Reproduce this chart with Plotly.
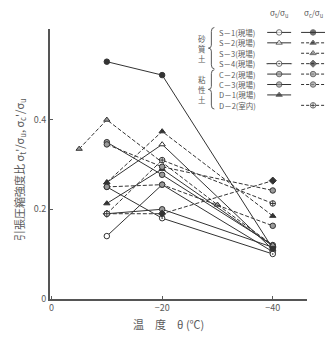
import plotly.graph_objects as go

# ---- data -------------------------------------------------------------
# temperature θ (℃) at which the specimens were tested
temp_std = [-10, -20, -40]
temp_S3 = [-5, -10, -30, -40]

# tensile strength ratio σt/σu
st_S1 = [0.14, 0.255, 0.105]
st_S2 = [0.26, 0.345, 0.11]
st_S4 = [0.25, 0.18, 0.10]
st_C2 = [0.19, 0.20, 0.115]
st_C3 = [0.35, 0.277, 0.12]
st_D1 = [0.213, 0.29, 0.118]

# compressive strength ratio σc/σu
sc_S1 = [0.53, 0.50, 0.112]
sc_S2 = [0.26, 0.374, 0.185]
sc_S3 = [0.335, 0.40, 0.21, 0.12]
sc_S4 = [0.19, 0.19, 0.264]
sc_C2 = [0.345, 0.295, 0.242]
sc_C3 = [0.25, 0.255, 0.163]
sc_D2 = [0.19, 0.31, 0.213]

soil_labels = ["S－1(現場)", "S－2(現場)", "S－3(現場)", "S－4(現場)",
               "C－2(現場)", "C－3(現場)", "D－1(現場)", "D－2(室内)"]
x_ticks = [0, -20, -40]
x_ticktext = ["0", "−20", "−40"]
y_ticks = [0, 0.2, 0.4]
y_ticktext = ["0", "0.2", "0.4"]

INK = "#333333"
TXT = "#5a5a5a"
HALF = "#9a9a9a"
FONT = "Noto Sans CJK JP"
MSIZE = 5.5

# marker styles: (symbol, fill colour)
OPEN_C = ("circle", "white")
OPEN_CD = ("circle-dot", "white")
OPEN_T = ("triangle-up", "white")
FILL_C = ("circle", INK)
FILL_T = ("triangle-up", INK)
HALF_T = ("triangle-up", HALF)
FILL_D = ("diamond", INK)
HALF_C = ("circle", HALF)
CROSS_C = ("circle-cross", "white")

# (row in key, column, temps, values, marker, dash)
series = [
    (0, 0, temp_std, st_S1, OPEN_C, "solid"),
    (1, 0, temp_std, st_S2, OPEN_T, "solid"),
    (3, 0, temp_std, st_S4, OPEN_CD, "solid"),
    (4, 0, temp_std, st_C2, HALF_C, "solid"),
    (5, 0, temp_std, st_C3, HALF_C, "solid"),
    (6, 0, temp_std, st_D1, FILL_T, "solid"),
    (0, 1, temp_std, sc_S1, FILL_C, "solid"),
    (1, 1, temp_std, sc_S2, FILL_T, "dash"),
    (2, 1, temp_S3, sc_S3, HALF_T, "dash"),
    (3, 1, temp_std, sc_S4, FILL_D, "dash"),
    (4, 1, temp_std, sc_C2, HALF_C, "dash"),
    (5, 1, temp_std, sc_C3, HALF_C, "dash"),
    (7, 1, temp_std, sc_D2, CROSS_C, "dash"),
]

W, H = 329, 344
fig = go.Figure()

for row, col, tx, vals, (sym, fill), dash in series:
    fig.add_trace(go.Scatter(
        x=tx, y=vals, mode="lines+markers",
        line=dict(color=INK, width=1, dash="4px,2px" if dash == "dash" else "solid"),
        marker=dict(symbol=sym, size=MSIZE, color=fill, line=dict(color=INK, width=1)),
        xaxis="x", yaxis="y", showlegend=False, hoverinfo="skip",
    ))

# ---- key (drawn on a pixel-space helper axis) --------------------------
row_y0, row_dy = 33, 10.6
col_x = [279, 313]
half_len = 12
for row, col, tx, vals, (sym, fill), dash in series:
    yy = row_y0 + row * row_dy
    cx = col_x[col]
    fig.add_trace(go.Scatter(
        x=[cx - half_len, cx, cx + half_len], y=[yy, yy, yy],
        mode="lines+markers",
        line=dict(color=INK, width=1, dash="3px,2px" if dash == "dash" else "solid"),
        marker=dict(symbol=sym, size=[0, MSIZE, 0], color=fill,
                    line=dict(color=INK, width=1)),
        xaxis="x2", yaxis="y2", showlegend=False, hoverinfo="skip",
    ))

annotations = []
for i, lab in enumerate(soil_labels):
    annotations.append(dict(
        x=217, y=row_y0 + i * row_dy, xref="x2", yref="y2", text=lab,
        showarrow=False, xanchor="left", yanchor="middle",
        font=dict(size=7.5, color=TXT, family=FONT)))
annotations += [
    dict(x=col_x[0], y=14, xref="x2", yref="y2",
         text="σ<sub>t</sub>/σ<sub>u</sub>", showarrow=False,
         font=dict(size=8, color=TXT, family=FONT)),
    dict(x=col_x[1], y=14, xref="x2", yref="y2",
         text="σ<sub>c</sub>/σ<sub>u</sub>", showarrow=False,
         font=dict(size=8, color=TXT, family=FONT)),
    dict(x=202, y=49, xref="x2", yref="y2", text="砂<br>質<br>土",
         showarrow=False, font=dict(size=7.5, color=TXT, family=FONT)),
    dict(x=202, y=91, xref="x2", yref="y2", text="粘<br>性<br>土",
         showarrow=False, font=dict(size=7.5, color=TXT, family=FONT)),
    # axis titles
    dict(x=168, y=330, xref="x2", yref="y2", text="温　度　θ (℃)",
         showarrow=False, font=dict(size=11, color=TXT, family=FONT)),
    dict(x=18, y=172, xref="x2", yref="y2", textangle=-90,
         text="引張圧縮強度比 σ<sub>t</sub>'/σ<sub>u</sub>, σ<sub>c</sub>'/σ<sub>u</sub>",
         showarrow=False, font=dict(size=11, color=TXT, family=FONT)),
]


def brace(y0, y1, x=211):
    ym = (y0 + y1) / 2
    return (f"M {x+3},{y0} Q {x},{y0} {x},{y0+4} L {x},{ym-3} "
            f"Q {x},{ym} {x-3},{ym} Q {x},{ym} {x},{ym+3} "
            f"L {x},{y1-4} Q {x},{y1} {x+3},{y1}")


shapes = [
    dict(type="path", path=brace(28, 70), xref="x2", yref="y2",
         line=dict(color=TXT, width=1)),
    dict(type="path", path=brace(71, 111), xref="x2", yref="y2",
         line=dict(color=TXT, width=1)),
]

fig.update_layout(
    width=W, height=H,
    margin=dict(l=0, r=0, t=0, b=0),
    paper_bgcolor="white", plot_bgcolor="rgba(0,0,0,0)",
    font=dict(family=FONT, color=TXT),
    xaxis=dict(
        domain=[49 / W, 307 / W], range=[0.3, -46.2],
        tickvals=x_ticks, ticktext=x_ticktext, ticks="inside", ticklen=3,
        tickcolor=TXT, tickfont=dict(size=9, color=TXT),
        showline=True, linecolor="#555", linewidth=1.5,
        showgrid=False, zeroline=False, anchor="y",
    ),
    yaxis=dict(
        domain=[(H - 304) / H, (H - 30) / H], range=[0, 0.602],
        tickvals=y_ticks, ticktext=y_ticktext, ticks="inside", ticklen=3,
        tickcolor=TXT, tickfont=dict(size=9, color=TXT),
        showline=True, linecolor="#555", linewidth=1.5,
        showgrid=False, zeroline=False, anchor="x",
    ),
    xaxis2=dict(domain=[0, 1], range=[0, W], visible=False, anchor="y2",
                fixedrange=True),
    yaxis2=dict(domain=[0, 1], range=[H, 0], visible=False, anchor="x2",
                fixedrange=True),
    annotations=annotations,
    shapes=shapes,
)

fig.write_html("out.html")
